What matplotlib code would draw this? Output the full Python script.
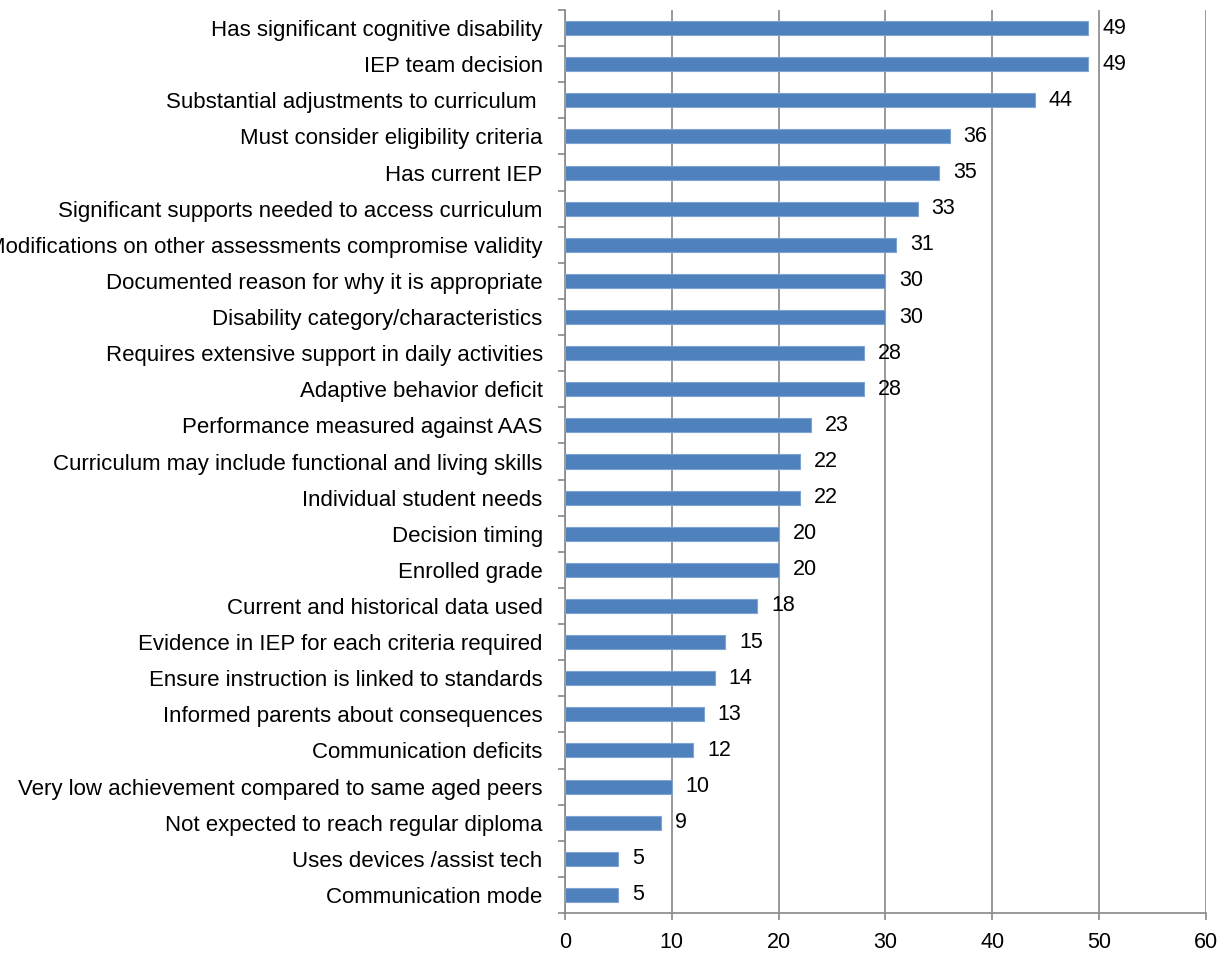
import matplotlib.pyplot as plt

# categories listed bottom to top
labels = [
    "Communication mode",
    "Uses devices /assist tech",
    "Not expected to reach regular diploma",
    "Very low achievement compared to same aged peers",
    "Communication deficits",
    "Informed parents about consequences",
    "Ensure instruction is linked to standards",
    "Evidence in IEP for each criteria required",
    "Current and historical data used",
    "Enrolled grade",
    "Decision timing",
    "Individual student needs",
    "Curriculum may include functional and living skills",
    "Performance measured against AAS",
    "Adaptive behavior deficit",
    "Requires extensive support in daily activities",
    "Disability category/characteristics",
    "Documented reason for why it is appropriate",
    "Modifications on other assessments compromise validity",
    "Significant supports needed to access curriculum",
    "Has current IEP",
    "Must consider eligibility criteria",
    "Substantial adjustments to curriculum ",
    "IEP team decision",
    "Has significant cognitive disability",
]
values = [5, 5, 9, 10, 12, 13, 14, 15, 18, 20, 20, 22, 22, 23, 28, 28, 30, 30, 31, 33, 35, 36, 44, 49, 49]
xticks = [0, 10, 20, 30, 40, 50, 60]

plt.rcParams['font.family'] = ['Liberation Sans', 'DejaVu Sans']

fig = plt.figure(figsize=(12.25, 9.55), dpi=100)
ax = fig.add_axes([0.4612, 0.044, 0.5233, 0.9455])

pos = list(range(len(labels)))
ax.barh(pos, values, height=0.39, color='#4F81BD', edgecolor='#7FA4D3', linewidth=0.8, zorder=3)
for p, v in zip(pos, values):
    ax.text(v + 1.3, p, str(v), va='center', ha='left', fontsize=15.5, color='black')

ax.set_xlim(0, 60)
ax.set_ylim(-0.5, len(labels) - 0.5)
ax.set_xticks(xticks)
ax.set_xticklabels([str(t) for t in xticks], fontsize=15.5)
ax.set_yticks(pos)
ax.set_yticklabels(labels, fontsize=16)
ax.set_yticks([p - 0.5 for p in range(len(labels) + 1)], minor=True)
ax.tick_params(axis='y', which='major', length=0, pad=16)
ax.tick_params(axis='y', which='minor', length=5, color='#888888', width=1.2)
ax.tick_params(axis='x', length=5, color='#888888', width=1.2, pad=9)
ax.xaxis.grid(True, color='#888888', linewidth=1.2, zorder=0)

for s in ['top', 'right']:
    ax.spines[s].set_visible(False)
for s in ['left', 'bottom']:
    ax.spines[s].set_color('#888888')
    ax.spines[s].set_linewidth(1.2)

fig.savefig('out.png', dpi=100)
